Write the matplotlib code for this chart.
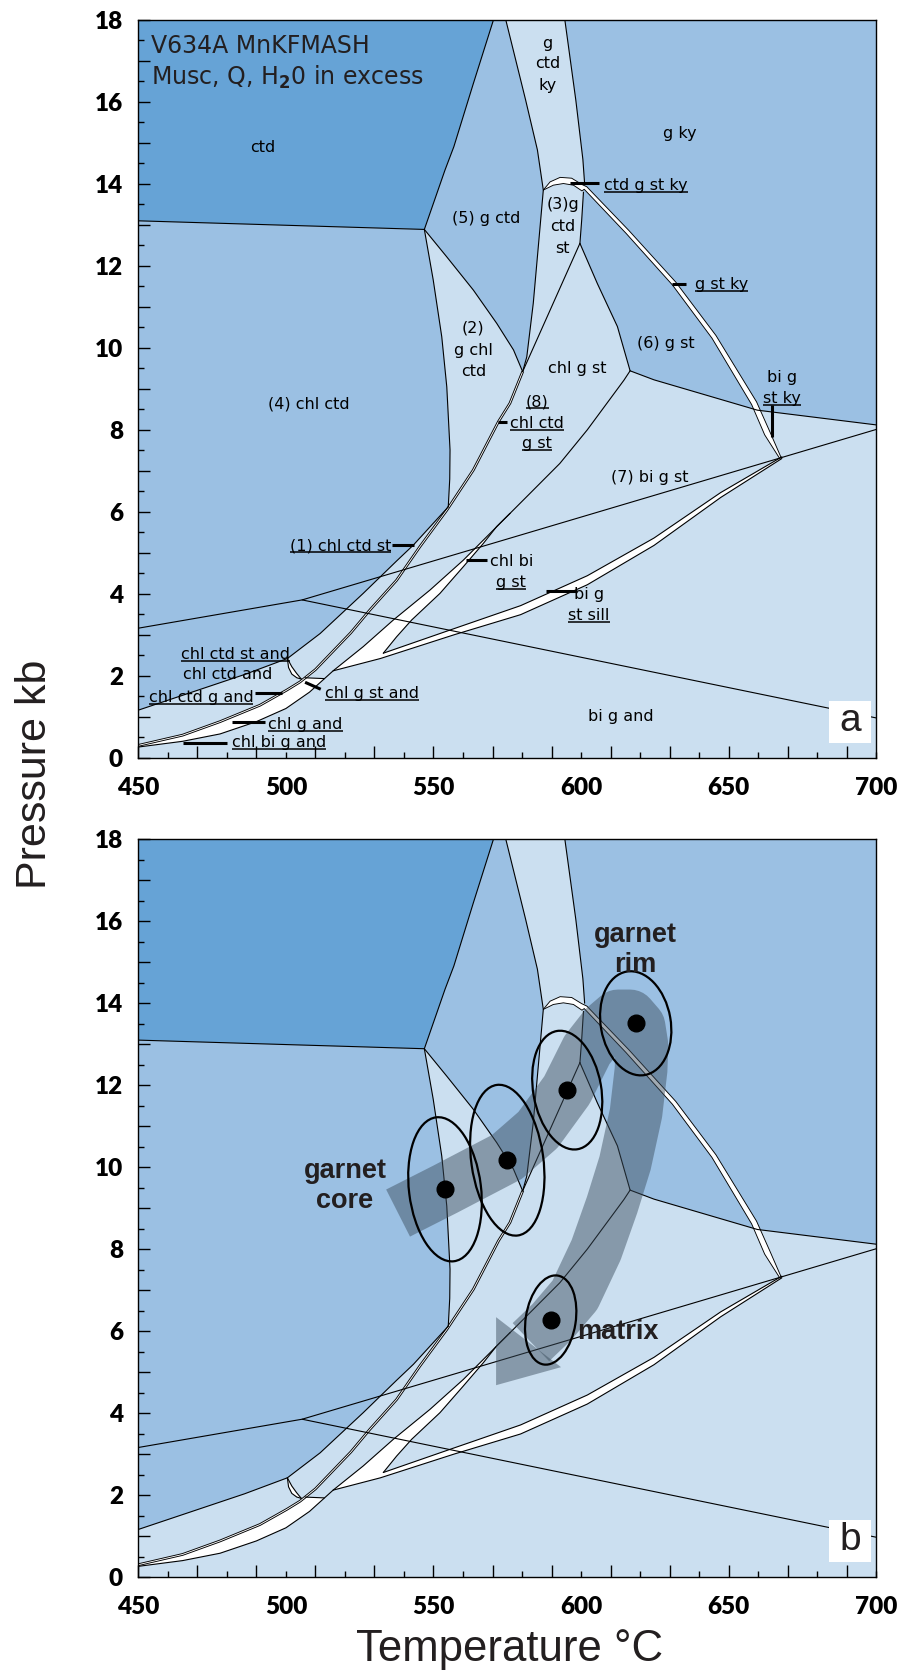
import numpy as np
import matplotlib
matplotlib.use("Agg")
import matplotlib.pyplot as plt
from matplotlib.patches import Polygon, Ellipse, Rectangle
from matplotlib.transforms import ScaledTranslation
from matplotlib.ticker import FixedLocator, FuncFormatter

plt.rcParams["font.family"] = ["Lato", "DejaVu Sans"]
plt.rcParams["font.weight"] = "heavy"

DARK = "#66a3d6"
MED = "#9bc0e3"
LIGHT = "#cbdff0"
INK = "#231f20"
LABEL_FONT = ["DejaVu Sans"]
SANS = ["Liberation Sans", "DejaVu Sans"]

# ---- field boundaries, (T degC, P kb) ----
ctd_floor = [(450, 13.10), (546.9, 12.89)]
ctd_rim = [(546.9, 12.89), (553.9, 14.34), (556.9, 14.91), (563.5, 16.45), (570.3, 18.0)]
g_ctd_foot = [(546.9, 12.89), (554.5, 12.22), (563.5, 11.41), (571.4, 10.60), (577.1, 9.95), (580.2, 9.42)]
chl_ctd_rim = [(546.9, 12.89), (549.9, 11.66), (552.8, 10.27), (554.5, 9.05), (555.6, 7.51), (555.5, 6.8), (555.0, 6.12)]
chl_ctd_st = [(555.0, 6.12), (543.2, 5.19), (537.5, 4.80), (526.2, 4.01), (511.6, 3.03), (500.5, 2.42)]
chl_ctd_and = [(500.5, 2.42), (486.0, 2.03), (450, 1.16)]
ky_left = [(574.5, 18.0), (581.2, 16.05), (585.2, 14.83), (587.2, 13.85), (585.8, 12.71),
           (583.8, 11.09), (581.6, 9.78), (580.2, 9.42)]
ky_right_hi = [(594.5, 18.0), (598.2, 16.05), (600.6, 14.6), (601.2, 14.0)]
ky_right_lo = [(600.8, 13.8), (600.2, 13.12), (599.6, 12.55)]
chl_g_st_top = [(599.6, 12.55), (580.2, 9.42)]
g_st_left = [(599.6, 12.55), (605.5, 11.57), (612.3, 10.52), (616.6, 9.44)]
g_st_floor = [(616.6, 9.44), (624.7, 9.22), (659.7, 8.48), (700, 8.12)]
chl_out = [(616.6, 9.44), (614.5, 9.21), (602.1, 8.0), (592.8, 7.18), (582.7, 6.45), (575.9, 5.96)]
wedge_left = [(575.9, 5.96), (568, 5.39), (560.1, 4.82), (548.8, 4.09), (536.4, 3.36), (526.2, 2.71), (516, 2.12)]
wedge_right = [(575.9, 5.96), (571.4, 5.64), (566.9, 5.23), (560.1, 4.66), (552.2, 4.01),
               (542.6, 3.36), (537.5, 2.95), (533, 2.55)]
sill_top = [(533, 2.55), (557, 3.15), (579.5, 3.71), (602.1, 4.44), (624.7, 5.36), (647.3, 6.47), (668.0, 7.34)]
sill_base = [(450, 0.26), (465, 0.40), (477.7, 0.58), (490, 0.88), (500, 1.2), (508, 1.6), (516, 2.12),
             (532, 2.42), (557, 3.0), (579.5, 3.49), (602.1, 4.22), (624.7, 5.18), (647.3, 6.35), (668.0, 7.30)]
bi_g_st_line = [(450, 3.16), (505.5, 3.85), (700, 8.01)]
bi_g_and_line = [(505.5, 3.85), (700, 0.97)]
chl_g_st_and = [(506.5, 1.95), (513, 1.93)]
# narrow chl ctd g and / (8) strip
thin_strip = [(450, 0.30), (465, 0.55), (477.7, 0.88), (491.2, 1.28), (500.3, 1.65), (504.8, 1.85),
              (510, 2.15), (516, 2.6), (522, 3.05), (528.4, 3.6), (537.5, 4.33), (545.4, 5.15),
              (554.5, 6.04), (563.5, 7.02), (572.0, 8.20), (575.9, 8.65), (580.2, 9.42)]
# g st ky strip and its cap
ky_strip = [(601.5, 13.9), (615.7, 12.83), (631.5, 11.57), (645.0, 10.27), (658.6, 8.65), (663.1, 7.91), (667.6, 7.30)]
cap_outer = [(587.2, 13.85), (589.5, 14.05), (592.9, 14.16), (596.8, 14.14), (600.2, 13.99)]
cap_inner = [(587.2, 13.85), (590.6, 13.97), (594.0, 14.01), (597.4, 13.97), (600.3, 13.83)]
lens_outer = [(500.5, 2.42), (500.9, 2.2), (502.0, 2.04), (503.7, 1.95), (505.2, 1.92)]
lens_inner = [(505.2, 1.92), (503.6, 2.06), (502.0, 2.22), (500.5, 2.42)]

# ---- panel a labels: text, T, P (baseline), underlined ----
field_text = [
    ("ctd", 492.0, 14.78, False),
    ("(4) chl ctd", 507.9, 8.52, False),
    ("g", 588.6, 17.32, False), ("ctd", 588.6, 16.82, False), ("ky", 588.6, 16.28, False),
    ("g ky", 633.4, 15.13, False),
    ("ctd g st ky", 622.0, 13.84, True),
    ("(5) g ctd", 567.7, 13.05, False),
    ("(3)g", 593.8, 13.38, False), ("ctd", 593.8, 12.85, False), ("st", 593.8, 12.32, False),
    ("(2)", 563.5, 10.37, False), ("g chl", 563.5, 9.82, False), ("ctd", 563.5, 9.31, False),
    ("chl g st", 598.7, 9.39, False),
    ("(6) g st", 628.7, 10.0, False),
    ("g st ky", 647.6, 11.44, True),
    ("bi g", 668.2, 9.16, False), ("st ky", 668.2, 8.66, True),
    ("(8)", 585.2, 8.58, True), ("chl ctd", 585.2, 8.05, True), ("g st", 585.2, 7.56, True),
    ("(7) bi g st", 623.2, 6.73, False),
    ("chl bi", 576.4, 4.67, False), ("g st", 576.4, 4.17, True),
    ("bi g", 602.7, 3.88, False), ("st sill", 602.7, 3.37, True),
    ("bi g and", 613.4, 0.89, False),
    ("(1) chl ctd st", 518.6, 5.06, True),
    ("chl ctd st and", 482.8, 2.41, True),
    ("chl ctd and", 480.3, 1.91, False),
    ("chl ctd g and", 471.2, 1.35, True),
    ("chl g st and", 529.3, 1.46, True),
    ("chl g and", 506.7, 0.71, True),
    ("chl bi g and", 497.6, 0.25, True),
]
leaders = [
    [(596.3, 14.02), (606.1, 14.02)],
    [(630.9, 11.57), (635.6, 11.57)],
    [(664.8, 8.6), (664.8, 7.83)],
    [(572.0, 8.18), (574.8, 8.18)],
    [(560.9, 4.82), (568.2, 4.82)],
    [(588.0, 4.07), (598.7, 4.07)],
    [(535.8, 5.19), (543.5, 5.19)],
    [(489.5, 1.59), (498.6, 1.59)],
    [(506.5, 1.84), (511.8, 1.67)],
    [(481.8, 0.88), (492.9, 0.88)],
    [(465.2, 0.36), (479.9, 0.36)],
]

# ---- panel b: garnet core -> rim -> matrix ----
pt_T = [553.9, 575.0, 595.3, 618.5, 589.7]
pt_P = [9.46, 10.17, 11.88, 13.51, 6.27]
path_T = [538.0, 553.9, 574.9, 585.4, 595.2, 602.0, 608.1, 612.5, 616.6, 619.6, 620.6,
          620.3, 618.6, 614.9, 610.5, 605.1, 597.9, 590.1, 583.0]
path_P = [8.88, 9.46, 10.25, 10.91, 11.88, 12.86, 13.42, 13.69, 13.69, 13.44, 12.98,
          12.37, 11.32, 10.10, 9.08, 7.98, 6.88, 6.22, 5.73]
head_T = [571.2, 593.2, 571.2]
head_P = [6.34, 5.12, 4.68]


def line(ax, pts, lw=0.8, z=3):
    p = np.asarray(pts, float)
    ax.plot(p[:, 0], p[:, 1], color="k", lw=lw, zorder=z,
            solid_joinstyle="round", solid_capstyle="round")


def patch(ax, pts, color, z):
    ax.add_patch(Polygon(np.asarray(pts, float), closed=True, fc=color, ec="none", zorder=z))


def strip(ax, pts, half_px):
    # offset a centre line sideways by a width given in pixels
    p = np.asarray(pts, float)
    sx = ax.bbox.width / 250.0
    sy = ax.bbox.height / 18.0
    x, y = p[:, 0] * sx, p[:, 1] * sy
    dx, dy = np.gradient(x), np.gradient(y)
    n = np.hypot(dx, dy)
    nx, ny = -dy / n, dx / n
    h = np.broadcast_to(np.asarray(half_px, float), x.shape)
    a = np.column_stack(((x + nx * h) / sx, (y + ny * h) / sy))
    b = np.column_stack(((x - nx * h) / sx, (y - ny * h) / sy))
    return a, b


def setup(ax):
    ax.set_xlim(450, 700)
    ax.set_ylim(0, 18)
    ax.set_facecolor(LIGHT)
    ax.set_axisbelow(False)
    for s in ax.spines.values():
        s.set_linewidth(1.0)
        s.set_zorder(5)
    xl = FuncFormatter(lambda v, p: f"{v:.0f}" if round(v) % 50 == 0 else "")
    ax.xaxis.set_major_locator(FixedLocator(np.arange(450, 700, 20)))
    ax.xaxis.set_minor_locator(FixedLocator(np.arange(460, 701, 20)))
    ax.xaxis.set_major_formatter(xl)
    ax.xaxis.set_minor_formatter(xl)
    ax.yaxis.set_major_locator(FixedLocator(np.arange(0, 19, 1)))
    ax.yaxis.set_minor_locator(FixedLocator(np.arange(0.5, 18, 1)))
    ax.yaxis.set_major_formatter(FuncFormatter(lambda v, p: f"{v:.0f}" if round(v) % 2 == 0 else ""))
    ax.tick_params(which="both", direction="in", top=False, right=False, width=1.0,
                   labelsize=17.5, colors="k")
    ax.tick_params(which="major", length=8.5)
    ax.tick_params(which="minor", length=4.6)
    ax.tick_params(axis="x", which="both", pad=14)
    ax.tick_params(axis="y", which="both", pad=11)


def draw_fields(ax):
    dark = [(450, 18)] + ctd_rim[::-1] + [(450, 13.10)]
    chl_ctd = ctd_floor + chl_ctd_rim[1:] + chl_ctd_st[1:] + chl_ctd_and[1:]
    g_ctd = ctd_rim + [(574.5, 18.0)] + ky_left[1:] + g_ctd_foot[::-1][1:-1]
    g_ky = ([(594.5, 18.0), (700, 18), (700, 8.12)] + g_st_floor[::-1][1:] + g_st_left[::-1][1:]
            + ky_right_lo[::-1][1:] + ky_right_hi[::-1][:-1])
    patch(ax, chl_ctd, MED, 1)
    patch(ax, g_ctd, MED, 1)
    patch(ax, g_ky, MED, 1)
    patch(ax, dark, DARK, 1.2)

    # narrow white fields
    out, inn = strip(ax, ky_strip, [1.8, 2.0, 2.2, 2.4, 2.8, 3.0, 0.8])
    patch(ax, cap_outer + out.tolist() + inn[::-1].tolist() + cap_inner[::-1], "white", 2)
    line(ax, cap_outer + out.tolist(), lw=0.65)
    line(ax, cap_inner + inn.tolist(), lw=0.65)

    up, lo = strip(ax, thin_strip, 0.9)
    wb = lo[:6].tolist() + chl_g_st_and + sill_base[5::-1]
    patch(ax, wb, "white", 2)
    patch(ax, up.tolist() + lo[::-1].tolist(), "white", 2)
    line(ax, up, lw=0.65)
    line(ax, lo, lw=0.65)

    wedge = wedge_left + sill_base[7:] + sill_top[::-1] + wedge_right[-2::-1]
    patch(ax, wedge, "white", 2)
    patch(ax, lens_outer + lens_inner[1:], "white", 2)

    for c in (ctd_floor, ctd_rim, g_ctd_foot, chl_ctd_rim, chl_ctd_st, chl_ctd_and,
              ky_left, ky_right_hi, ky_right_lo, chl_g_st_top, g_st_left, g_st_floor,
              chl_out, wedge_left, wedge_right, sill_top, sill_base, bi_g_st_line,
              bi_g_and_line, chl_g_st_and, lens_outer, lens_inner):
        line(ax, c)


def panel_tag(ax, s):
    ax.add_patch(Rectangle((0.936, 0.0203), 0.0565, 0.0566, transform=ax.transAxes,
                           fc="white", ec="none", zorder=8))
    ax.text(0.965, 0.036, s, transform=ax.transAxes, ha="center", va="baseline",
            fontsize=28, family=SANS, weight="normal", color=INK, zorder=9)


fig = plt.figure(figsize=(9.08, 16.7), dpi=100)
ax_a = fig.add_axes([138.3 / 908, 1 - 757.7 / 1670, 738 / 908, 737.7 / 1670])
ax_b = fig.add_axes([138.3 / 908, 1 - 1577 / 1670, 738 / 908, 737.7 / 1670])

for ax in (ax_a, ax_b):
    setup(ax)
    draw_fields(ax)

# ---- panel a annotations ----
ax_a.text(454.3, 17.2, "V634A MnKFMASH", fontsize=17, family=LABEL_FONT, weight="normal",
          color=INK, va="baseline", zorder=7)
ax_a.text(454.3, 16.41, r"Musc, Q, H$_2$0 in excess", fontsize=17, family=LABEL_FONT,
          weight="normal", color=INK, va="baseline", zorder=7)

under = []
for s, t, p, u in field_text:
    txt = ax_a.text(t, p, s, fontsize=11.5, family=LABEL_FONT, weight="normal", color="k",
                    ha="center", va="baseline", zorder=7)
    if u:
        under.append(txt)
for seg in leaders:
    p = np.asarray(seg)
    ax_a.plot(p[:, 0], p[:, 1], color="k", lw=2.2, solid_capstyle="butt", zorder=7)
panel_tag(ax_a, "a")

# ---- panel b: P-T path ----
ax_b.plot(path_T, path_P, color="#3c4e5e", alpha=0.48, lw=38, solid_capstyle="butt",
          solid_joinstyle="round", zorder=4)
ax_b.add_patch(Polygon(np.column_stack((head_T, head_P)), closed=True, fc="#3c4e5e",
                       alpha=0.48, ec="none", zorder=4))
ell_w = [72, 72, 68, 70, 50]
ell_h = [145, 152, 120, 105, 90]
ell_a = [7, 8, 10, 10, -9]
for t, p, w, h, a in zip(pt_T, pt_P, ell_w, ell_h, ell_a):
    ax_b.add_patch(Ellipse((0, 0), w / 100, h / 100, angle=a, fill=False, ec="k", lw=1.6,
                           transform=fig.dpi_scale_trans + ScaledTranslation(t, p, ax_b.transData),
                           zorder=6))
ax_b.plot(pt_T, pt_P, "o", color="k", ms=12, zorder=7)
for s, t, p, ha in [("garnet", 618.4, 15.49, "center"), ("rim", 618.4, 14.77, "center"),
                    ("garnet", 520.0, 9.73, "center"), ("core", 520.0, 9.0, "center"),
                    ("matrix", 598.5, 5.81, "left")]:
    ax_b.text(t, p, s, fontsize=19.5, family=SANS, weight="bold", color=INK, ha=ha,
              va="baseline", zorder=7)
panel_tag(ax_b, "b")

fig.text(46 / 908, 1 - 774 / 1670, "Pressure kb", rotation=90, rotation_mode="anchor",
         ha="center", va="baseline", fontsize=31, family=SANS, weight="normal", color=INK)
fig.text(0.561, 9 / 1670, "Temperature °C", ha="center", va="baseline", fontsize=31.5,
         family=SANS, weight="normal", color=INK)

# underline the labels of the narrow fields
fig.canvas.draw()
r = fig.canvas.get_renderer()
inv = ax_a.transData.inverted()
for txt in under:
    bb = txt.get_window_extent(r)
    yb = ax_a.transData.transform(txt.get_position())[1] - 2.0
    (t0, p0), (t1, _) = inv.transform([(bb.x0, yb), (bb.x1, yb)])
    ax_a.plot([t0, t1], [p0, p0], color="k", lw=1.1, solid_capstyle="butt", zorder=7)

fig.savefig("out.png", dpi=100)
